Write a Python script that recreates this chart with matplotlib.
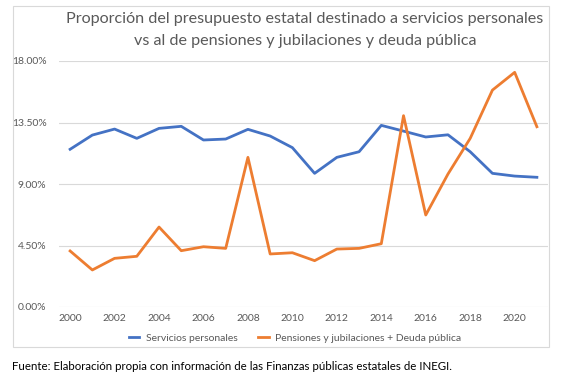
import matplotlib.pyplot as plt
from matplotlib.patches import Rectangle
from matplotlib.ticker import FuncFormatter

years = list(range(2000, 2022))
servicios = [11.54, 12.58, 13.02, 12.34, 13.07, 13.22, 12.22, 12.29, 13.00, 12.51,
             11.66, 9.78, 10.95, 11.36, 13.29, 12.87, 12.44, 12.60, 11.36, 9.78,
             9.58, 9.49]
pensiones_deuda = [4.10, 2.71, 3.56, 3.71, 5.85, 4.12, 4.41, 4.29, 10.95, 3.88,
                   3.97, 3.39, 4.24, 4.29, 4.63, 14.00, 6.73, 9.73, 12.34, 15.87,
                   17.17, 13.19]
y_ticks = [0, 4.5, 9, 13.5, 18]
x_ticks = list(range(2000, 2021, 2))

plt.rcParams['font.family'] = ['Lato', 'DejaVu Sans']
gray_txt = '#595959'

fig = plt.figure(figsize=(5.69, 3.84), dpi=100)
ax = fig.add_axes([59 / 569, 1 - 307 / 384, (548 - 59) / 569, (307 - 61) / 384])

# outer chart frame like the Excel chart box
fig.patches.append(Rectangle((13 / 569, 1 - 347 / 384), (549 - 13) / 569, (347 - 6) / 384,
                             transform=fig.transFigure, fill=False,
                             edgecolor='#d9d9d9', linewidth=0.8))

ax.plot(years, servicios, color='#4472C4', linewidth=2, label='Servicios personales',
        solid_joinstyle='round')
ax.plot(years, pensiones_deuda, color='#ED7D31', linewidth=2,
        label='Pensiones y jubilaciones + Deuda pública', solid_joinstyle='round')

ax.set_xlim(1999.5, 2021.5)
ax.set_ylim(0, 18)
ax.set_yticks(y_ticks)
ax.set_xticks(x_ticks)
ax.yaxis.set_major_formatter(FuncFormatter(lambda v, p: f'{v:.2f}%'))
ax.tick_params(axis='both', length=0, labelsize=7.5, labelcolor=gray_txt)
ax.tick_params(axis='y', pad=9)
ax.tick_params(axis='x', pad=5)
ax.grid(axis='y', color='#d9d9d9', linewidth=0.8)
ax.set_axisbelow(True)
for s in ax.spines.values():
    s.set_visible(False)

fig.text(305 / 569, 1 - 30 / 384,
         'Proporción del presupuesto estatal destinado a servicios personales\n'
         'vs al de pensiones y jubilaciones y deuda pública',
         ha='center', va='center', fontsize=11.6, color=gray_txt, linespacing=1.65)

fig.legend(loc='center', bbox_to_anchor=(295 / 569, 1 - 338 / 384), ncol=2,
           frameon=False, fontsize=7.5, handlelength=1.0, columnspacing=2.0,
           handletextpad=0.6, labelcolor=gray_txt)

fig.text(12 / 569, 1 - 366 / 384,
         'Fuente: Elaboración propia con información de las Finanzas públicas estatales de INEGI.',
         ha='left', va='center', fontsize=8.3, color='black')

fig.savefig('out.png', dpi=100)
